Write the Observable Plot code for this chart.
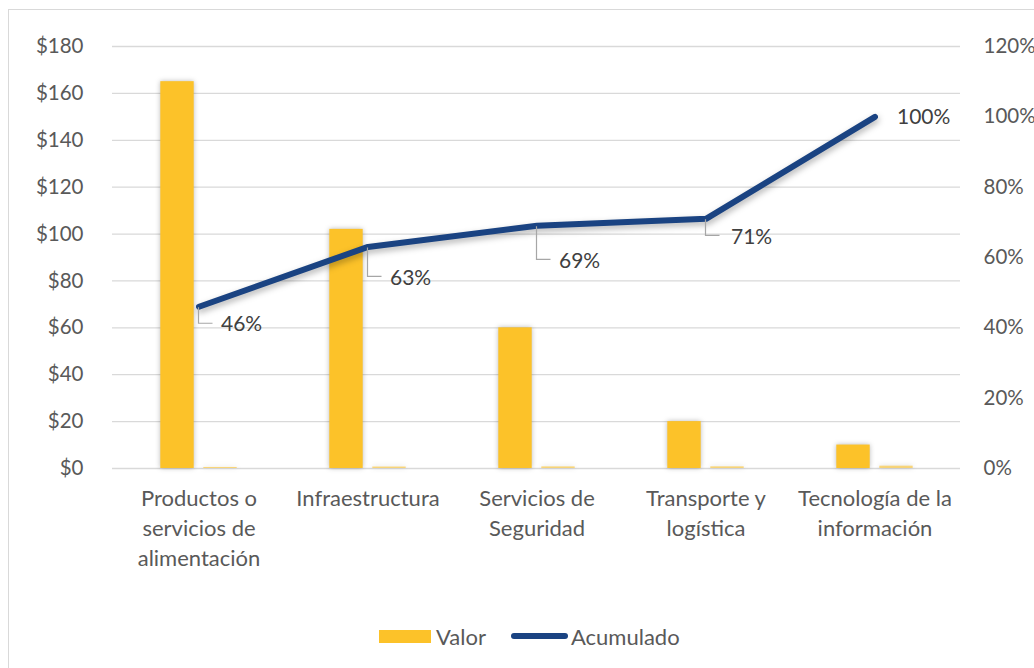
<!DOCTYPE html>
<html>
<head>
<meta charset="utf-8">
<script src="https://cdn.jsdelivr.net/npm/d3@7"></script>
<script src="https://cdn.jsdelivr.net/npm/@observablehq/plot@0.6"></script>
<style>
  html, body { margin: 0; padding: 0; background: #fff; overflow: hidden; }
  body { width: 1034px; height: 668px; position: relative; font-family: Lato, "Open Sans", sans-serif; }
  #frame { position: absolute; left: 8px; top: 9px; width: 1100px; height: 700px; border: 1px solid #d9d9d9; box-sizing: border-box; }
  #chart { position: absolute; left: 0; top: 0; }
  #chart svg g[aria-label="bar"] { filter: drop-shadow(0 0 2.5px rgba(0,0,0,0.28)); }
  #chart svg g[aria-label="line"] { filter: drop-shadow(1px 3px 3px rgba(0,0,0,0.3)); }
  #legend { position: absolute; top: 623px; left: 0; width: 1034px; height: 26px; font-size: 22px; color: #595959; }
  #legend .item { position: absolute; top: 0; display: flex; align-items: center; height: 26px; }
</style>
</head>
<body>
<div id="frame"></div>
<div id="chart"></div>
<div id="legend">
  <div class="item" style="left:379px"><span style="display:inline-block;width:52px;height:13px;background:#fcc229;margin-right:5px"></span>Valor</div>
  <div class="item" style="left:511px"><span style="display:inline-block;width:57px;height:6px;border-radius:3px;background:#1a4382;margin-right:3px"></span>Acumulado</div>
</div>
<script>
// ---- data ----
const categories = [
  "Productos o\nservicios de\nalimentación",
  "Infraestructura",
  "Servicios de\nSeguridad",
  "Transporte y\nlogística",
  "Tecnología de la\ninformación"
];
const valor = [165, 102, 60, 20, 10];
const acumulado = [46, 63, 69, 71, 100]; // percent
const valorTicks = [0, 20, 40, 60, 80, 100, 120, 140, 160, 180];
const pctTicks = [0, 20, 40, 60, 80, 100, 120];

// ---- layout (not data) ----
const pctToValor = 180 / 120;           // right axis 120% == left axis $180
const labelDy = [18, 31, 35, 18, 0];     // data-label offsets
const labelDx = [22, 22, 22, 25, 22];
const leader = [true, true, true, true, false];

const yellow = "#fcc229";
const blue = "#1a4382";
const textColor = "#595959";

const rows = categories.map((c, i) => ({
  cat: c,
  valor: valor[i],
  acum: acumulado[i],
  acumY: acumulado[i] * pctToValor,
  acumFrac: acumulado[i] / 100,
  i
}));

const barW = 34, gap = 9;
const bandW = (1034 - 112 - 74) / categories.length;
const inset = (bandW - barW) / 2;
const off = (barW + gap) / 2;

const marks = [
  Plot.gridY(valorTicks.filter(d => d > 0), {stroke: "#d9d9d9", strokeOpacity: 1, strokeWidth: 1.3}),
  Plot.ruleY([0], {stroke: "#d9d9d9", strokeWidth: 1.5}),
  Plot.barY(rows, {x: "cat", y: "valor", fill: yellow, insetLeft: inset, insetRight: inset, dx: -off}),
  Plot.barY(rows, {x: "cat", y: "acumFrac", fill: yellow, fillOpacity: 0.6, insetLeft: inset, insetRight: inset, dx: off}),
  Plot.axisY({ticks: valorTicks, tickFormat: d => "$" + d, tickSize: 0, tickPadding: 29, fontSize: 20.5, fill: textColor, label: null}),
  Plot.axisY({anchor: "right", ticks: pctTicks.map(p => p * pctToValor), tickFormat: d => Math.round(d / pctToValor) + "%", tickSize: 0, tickPadding: 23, textAnchor: "start", fontSize: 20.5, fill: textColor, label: null}),
  Plot.axisX({tickSize: 0, tickPadding: 16, fontSize: 22, fill: textColor, lineHeight: 1.365, label: null}),
  Plot.line(rows, {x: "cat", y: "acumY", stroke: blue, strokeWidth: 6, strokeLinecap: "round", strokeLinejoin: "round"}),
  // leader lines for the data labels, drawn through the plot's scales
  (index, scales) => {
    const g = d3.create("svg:g").attr("fill", "none").attr("stroke", "#a6a6a6").attr("stroke-width", 1.2);
    const bw = scales.x.bandwidth ? scales.x.bandwidth() : 0;
    rows.forEach((r, i) => {
      if (!leader[i]) return;
      const x = scales.x(r.cat) + bw / 2;
      const y = scales.y(r.acumY);
      g.append("path").attr("d", `M${x},${y + 1}V${y + labelDy[i] - 1}H${x + 14}`);
    });
    return g.node();
  },
  ...rows.map((r, i) => Plot.text([r], {x: "cat", y: "acumY", text: d => d.acum + "%", dx: labelDx[i], dy: labelDy[i], textAnchor: "start", fontSize: 21, fill: "#404040"}))
];

const chart = Plot.plot({
  width: 1034,
  height: 600,
  marginLeft: 112,
  marginRight: 74,
  marginTop: 46,
  marginBottom: 132,
  style: {fontFamily: "Lato, 'Open Sans', sans-serif", background: "transparent", overflow: "visible"},
  x: {domain: categories, padding: 0, axis: null},
  y: {domain: [0, 180], axis: null},
  marks
});
document.getElementById("chart").appendChild(chart);
</script>
</body>
</html>
